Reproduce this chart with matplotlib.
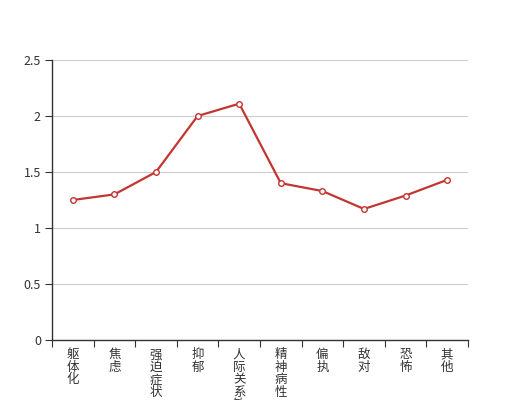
import matplotlib
matplotlib.use('Agg')
import matplotlib.pyplot as plt
from matplotlib.ticker import FormatStrFormatter, FixedLocator

plt.rcParams['font.family'] = ['Noto Sans CJK SC', 'DejaVu Sans']

# SCL-90 factor scores
factors = ['躯体化', '焦虑', '强迫症状', '抑郁', '人际关系敏感',
           '精神病性', '偏执', '敌对', '恐怖', '其他']
scores = [1.25, 1.30, 1.50, 2.00, 2.11, 1.40, 1.33, 1.17, 1.29, 1.43]
y_ticks = [0, 0.5, 1, 1.5, 2, 2.5]

fig = plt.figure(figsize=(5.2, 4.0), dpi=100)
ax = fig.add_axes([0.1, 0.15, 0.8, 0.7])

x = list(range(len(factors)))
ax.plot(x, scores, color='#c23531', lw=1.6, marker='o', ms=4,
        mfc='white', mec='#c23531', mew=1, zorder=3, clip_on=False)

ax.set_xlim(-0.5, len(factors) - 0.5)
ax.set_ylim(0, 2.5)
ax.set_yticks(y_ticks)
ax.yaxis.set_major_formatter(FormatStrFormatter('%g'))
ax.grid(axis='y', color='#cccccc', lw=0.8)
ax.set_axisbelow(True)

# ticks on category boundaries, labels in the middle, written vertically
ax.xaxis.set_major_locator(FixedLocator([i - 0.5 for i in range(len(factors) + 1)]))
ax.xaxis.set_major_formatter(plt.NullFormatter())
ax.set_xticks(x, minor=True)
ax.set_xticklabels(['\n'.join(f) for f in factors], minor=True,
                   va='top', linespacing=0.95)
ax.tick_params(axis='x', which='minor', length=0, pad=6, labelsize=9, labelcolor='#333333')
ax.tick_params(axis='x', which='major', length=5, color='#333333')
ax.tick_params(axis='y', length=5, color='#333333', labelsize=9, labelcolor='#333333', pad=3)

for s in ['top', 'right']:
    ax.spines[s].set_visible(False)
for s in ['left', 'bottom']:
    ax.spines[s].set_color('#333333')
    ax.spines[s].set_linewidth(1)

fig.savefig('out.png', dpi=100, facecolor='white')
